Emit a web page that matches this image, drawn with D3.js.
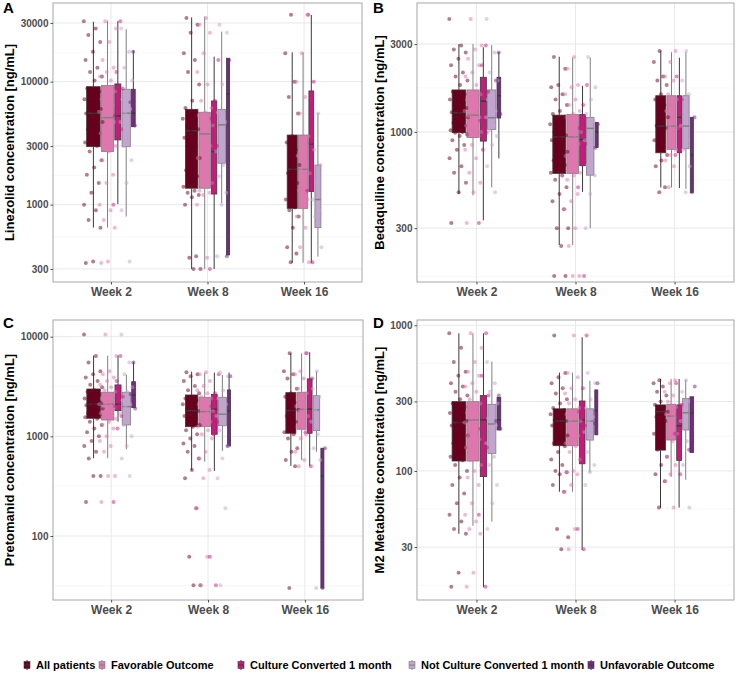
<!DOCTYPE html>
<html>
<head>
<meta charset="utf-8">
<script src="https://cdn.jsdelivr.net/npm/d3@7"></script>
<style>
  body { margin: 0; background: #fff; }
  text { font-family: "Liberation Sans", Arial, sans-serif; }
</style>
</head>
<body>
<svg id="chart" width="737" height="674"></svg>
<script>
const weeks = ["Week 2", "Week 8", "Week 16"];
const groups = ["All patients", "Favorable Outcome", "Culture Converted 1 month",
  "Not Culture Converted 1 month", "Unfavorable Outcome"];
const groupColors = ["#67001f", "#de77ae", "#c51b7d", "#c2a5cf", "#762a83"];
const groupStroke = ["#3a3a3a", "#808080", "#3a3a3a", "#808080", "#3a3a3a"];

// patients: [concentration, outcome(F/U/-) + culture at 1 month(C/N/-)]
const lzdWeek2 = [[31000,"FC"],[27000,"FN"],[24000,"--"],[21000,"F-"],[17500,"UN"],[15000,"F-"],[13000,"FN"],[12000,"FC"],
  [11000,"F-"],[10200,"FN"],[8800,"FC"],[8300,"FN"],[7800,"F-"],[7200,"FN"],[6800,"U-"],[6400,"FC"],[6000,"FN"],[5700,"F-"],
  [5500,"FN"],[5300,"FC"],[5000,"--"],[4700,"FN"],[4400,"U-"],[4100,"FC"],[3800,"FN"],[3500,"FC"],[3200,"F-"],[3000,"FN"],
  [2700,"F-"],[2300,"FN"],[2000,"--"],[1750,"F-"],[1500,"FN"],[1250,"--"],[1000,"FC"],[900,"FN"],[750,"F-"],[650,"F-"],
  [345,"FN"],[335,"F-"]];
const lzdWeek8 = [[33000,"F-"],[29000,"FN"],[25000,"FN"],[17000,"F-"],[15000,"UC"],[12000,"F-"],[9500,"FN"],[7000,"FC"],
  [6100,"F-"],[5600,"FN"],[5300,"F-"],[5000,"FC"],[4700,"FN"],[4400,"F-"],[4100,"FN"],[3900,"--"],[3500,"F-"],[3000,"FC"],
  [2700,"FN"],[2400,"F-"],[2100,"FN"],[1900,"F-"],[1700,"-N"],[1500,"F-"],[1400,"FC"],[1300,"F-"],[1250,"FN"],[1200,"F-"],
  [1150,"--"],[1000,"FN"],[380,"UN"],[370,"F-"],[300,"FC"],[300,"--"]];
const lzdWeek16 = [[35000,"FC"],[17000,"F-"],[10000,"FC"],[7500,"F-"],[5500,"FN"],[3600,"F-"],[3200,"-C"],[2800,"FN"],
  [2500,"F-"],[2100,"FN"],[1950,"F-"],[1800,"F-"],[1500,"FN"],[1300,"FC"],[1100,"FN"],[950,"F-"],[900,"-N"],[800,"FN"],
  [650,"F-"],[450,"FN"],[400,"--"],[340,"FC"]];

const bdqWeek2 = [[4100,"FN"],[2950,"FC"],[2800,"F-"],[2700,"UN"],[2500,"F-"],[2300,"FC"],[2100,"FN"],[2000,"F-"],
  [1900,"UN"],[1800,"F-"],[1650,"FC"],[1600,"FN"],[1550,"F-"],[1500,"FN"],[1450,"--"],[1400,"FC"],[1350,"F-"],[1300,"FN"],
  [1280,"F-"],[1250,"UN"],[1220,"F-"],[1200,"FN"],[1150,"FC"],[1120,"--"],[1080,"FN"],[1050,"F-"],[1020,"FN"],[1000,"F-"],
  [990,"FC"],[970,"F-"],[950,"FN"],[900,"--"],[850,"FN"],[800,"FC"],[720,"F-"],[650,"-N"],[600,"F-"],[530,"F-"],
  [470,"FN"],[320,"FC"]];
const bdqWeek8 = [[2550,"FN"],[2200,"F-"],[1800,"FC"],[1750,"FN"],[1600,"F-"],[1500,"FN"],[1400,"FC"],[1300,"F-"],
  [1250,"FN"],[1200,"F-"],[1150,"FN"],[1100,"U-"],[1050,"FC"],[1000,"FN"],[960,"F-"],[940,"--"],[900,"FN"],[860,"FC"],
  [820,"U-"],[780,"FN"],[740,"F-"],[700,"-C"],[660,"FN"],[620,"F-"],[600,"F-"],[580,"FN"],[550,"F-"],[500,"-C"],
  [460,"FN"],[420,"F-"],[380,"F-"],[300,"FN"],[300,"--"],[240,"F-"],[165,"FC"],[165,"F-"]];
const bdqWeek16 = [[2750,"FN"],[2400,"F-"],[2000,"FC"],[1900,"FN"],[1800,"--"],[1600,"FN"],[1500,"FC"],[1400,"F-"],
  [1300,"FN"],[1200,"U-"],[1120,"F-"],[1080,"FN"],[1050,"FC"],[980,"F-"],[900,"-N"],[850,"F-"],[800,"FN"],[750,"FC"],
  [700,"F-"],[650,"FN"],[500,"F-"],[470,"UN"]];

const paWeek2 = [[10500,"FN"],[6400,"FC"],[5500,"UN"],[4500,"F-"],[4200,"FN"],[3900,"F-"],[3600,"FC"],[3300,"F-"],
  [3100,"FN"],[2900,"F-"],[2800,"FN"],[2650,"U-"],[2500,"FC"],[2400,"F-"],[2300,"FN"],[2200,"--"],[2150,"F-"],[2100,"FN"],
  [2050,"FC"],[2000,"FC"],[1950,"FN"],[1900,"U-"],[1800,"F-"],[1700,"FN"],[1650,"--"],[1600,"FC"],[1550,"F-"],[1500,"FN"],
  [1400,"F-"],[1300,"FN"],[1200,"FC"],[1100,"--"],[1000,"FN"],[900,"F-"],[800,"FN"],[700,"F-"],[600,"-N"],[400,"FN"],
  [400,"F-"],[220,"FC"]];
const paWeek8 = [[4400,"FN"],[4200,"FC"],[4000,"UN"],[3600,"F-"],[3200,"F-"],[2900,"FN"],[2700,"FC"],[2500,"F-"],
  [2400,"FN"],[2300,"--"],[2200,"F-"],[2100,"FN"],[2000,"FC"],[1900,"F-"],[1800,"FN"],[1700,"F-"],[1600,"-N"],[1500,"F-"],
  [1400,"FC"],[1300,"FN"],[1250,"F-"],[1150,"FN"],[1050,"FC"],[950,"F-"],[850,"--"],[800,"UN"],[700,"F-"],[600,"FN"],
  [460,"F-"],[380,"FN"],[190,"FN"],[62,"FC"],[32,"FC"],[32,"-N"]];
const paWeek16 = [[6800,"FC"],[4500,"FN"],[4200,"F-"],[3800,"FC"],[3000,"FN"],[2700,"F-"],[2500,"-N"],[2200,"F-"],
  [2000,"FC"],[1850,"FN"],[1800,"F-"],[1600,"F-"],[1400,"FN"],[1250,"F-"],[1100,"-C"],[1050,"FN"],[950,"F-"],[760,"UN"],
  [700,"F-"],[580,"FN"],[500,"FC"],[30,"UN"]];

const m2Week2 = [[880,"FC"],[700,"F-"],[560,"FN"],[480,"F-"],[450,"FC"],[400,"FN"],[380,"F-"],[350,"FN"],[330,"UC"],
  [310,"F-"],[290,"FN"],[275,"F-"],[260,"-N"],[250,"FC"],[240,"F-"],[230,"FN"],[220,"U-"],[215,"F-"],[205,"FN"],[195,"UC"],
  [185,"--"],[175,"FN"],[165,"F-"],[155,"FN"],[145,"FC"],[135,"F-"],[125,"-N"],[118,"F-"],[110,"FN"],[100,"FC"],[90,"F-"],
  [80,"FN"],[70,"--"],[60,"FN"],[50,"FC"],[45,"F-"],[40,"FN"],[37,"F-"],[20,"F-"],[16,"FC"]];
const m2Week8 = [[850,"FC"],[470,"FN"],[440,"F-"],[400,"UN"],[370,"FC"],[340,"F-"],[310,"FN"],[290,"F-"],[270,"FN"],
  [262,"--"],[255,"FC"],[245,"F-"],[235,"FN"],[225,"F-"],[220,"FN"],[212,"U-"],[205,"FC"],[195,"F-"],[185,"-N"],[175,"F-"],
  [165,"FN"],[155,"F-"],[148,"FC"],[135,"FN"],[120,"F-"],[110,"-N"],[100,"F-"],[98,"FN"],[95,"F-"],[80,"FN"],[72,"F-"],
  [40,"FC"],[35,"--"],[29,"FC"]];
const m2Week16 = [[420,"FN"],[400,"FC"],[380,"U-"],[350,"FN"],[330,"F-"],[300,"FN"],[285,"-C"],[275,"F-"],[265,"FN"],
  [255,"U-"],[245,"FC"],[235,"F-"],[220,"FN"],[200,"--"],[180,"FC"],[160,"FN"],[140,"U-"],[125,"F-"],[110,"FN"],[95,"FC"],
  [85,"F-"],[56,"FN"]];

// box statistics per week and group: [lower whisker, Q1, median, Q3, upper whisker]
const lzdBoxes = [
  [[650,2960,5540,9100,30700],[650,2700,5100,9300,31300],[1010,3360,5260,9580,31000],[800,2960,5540,8670,26700],[4300,4300,5540,8670,17900]],
  [[300,1360,3990,5960,33300],[300,1360,3760,5640,33700],[300,1220,2700,6960,15960],[1030,2170,4450,5960,25500],[390,390,7900,15500,15500]],
  [[337,933,1940,3680,17300],[337,933,1940,3680,17300],[337,1280,3110,8400,34800],[378,650,1100,2100,5540],null]
];
const bdqBoxes = [
  [[459,990,1270,1690,3000],[452,933,1233,1690,3000],[331,891,1470,1980,2880],[499,1031,1194,1690,2960],[718,1190,1572,1980,2710]],
  [[243,595,940,1233,2560],[243,595,940,1245,2530],[472,655,910,1245,1780],[300,582,1045,1200,2530],[824,824,1000,1125,1125]],
  [[499,770,1075,1572,2760],[499,804,1075,1572,2710],[495,770,1200,1572,2530],[490,810,1075,1572,2710],[469,469,750,1200,1200]]
];
const paBoxes = [
  [[603,1518,2113,2985,6450],[603,1459,2100,2770,6450],[1403,1810,2100,3280,6500],[741,1300,1986,2770,4130],[1940,1940,2600,3535,5610]],
  [[460,1250,1810,2600,4460],[557,1250,1770,2466,4360],[450,1050,1870,2642,4360],[714,1280,1667,2466,4130],[801,801,1800,2920,4360]],
  [[505,1074,1810,2743,6810],[580,1178,1870,2770,6810],[505,1074,1880,3770,6980],[700,1140,1845,2560,4460],[30,30,400,760,760]]
];
const m2Boxes = [
  [[37,117,215,299,881],[42,117,224,299,881],[15.9,91.4,224,329,881],[44.9,132,210,287,563],[191,191,224,320,320]],
  [[72,149,220,267,473],[72,149,220,267,473],[28.7,112,224,302,828],[98,163,220,267,415],[177,177,260,360,360]],
  [[56,139,255,284,428],[91,163,238,287,428],[56,118,204,284,428],[87,191,251,315,421],[134,134,250,323,323]]
];

const lzdTicks = [300, 1000, 3000, 10000, 30000];
const bdqTicks = [300, 1000, 3000];
const paTicks = [100, 1000, 10000];
const m2Ticks = [30, 100, 300, 1000];

const panels = [
  { letter: "A", title: "Linezolid concentration [ng/mL]", patients: [lzdWeek2, lzdWeek8, lzdWeek16], boxes: lzdBoxes,
    ticks: lzdTicks, domain: [235, 43600], x0: 53, x1: 362, y0: 3, y1: 282, ox: 0, oy: 0 },
  { letter: "B", title: "Bedaquiline concentration [ng/mL]", patients: [bdqWeek2, bdqWeek8, bdqWeek16], boxes: bdqBoxes,
    ticks: bdqTicks, domain: [153, 5013], x0: 417, x1: 734, y0: 3, y1: 282, ox: 370, oy: 0 },
  { letter: "C", title: "Pretomanid concentration [ng/mL]", patients: [paWeek2, paWeek8, paWeek16], boxes: paBoxes,
    ticks: paTicks, domain: [22.8, 14700], x0: 53, x1: 363, y0: 320, y1: 600, ox: 0, oy: 315 },
  { letter: "D", title: "M2 Metabolite concentration [ng/mL]", patients: [m2Week2, m2Week8, m2Week16], boxes: m2Boxes,
    ticks: m2Ticks, domain: [13, 1087], x0: 417, x1: 734, y0: 320, y1: 600, ox: 370, oy: 315 }
];

const inGroup = [
  (c) => true,
  (c) => c[0] === "F",
  (c) => c[1] === "C",
  (c) => c[1] === "N",
  (c) => c[0] === "U"
];

const maxBoxW = 13.5, refN = 40, boxGap = 1.2;
const svg = d3.select("#chart");
svg.append("rect").attr("width", 737).attr("height", 674).attr("fill", "#fff");

panels.forEach((p) => {
  const x = d3.scalePoint().domain(weeks).range([p.x0, p.x1]).padding(0.6);
  const y = d3.scaleLog().domain(p.domain).range([p.y1, p.y0]);
  const g = svg.append("g");

  // minor grid lines at log midpoints
  const lt = p.ticks.map(Math.log10);
  const step = lt.length > 1 ? lt[1] - lt[0] : 1;
  const minors = [];
  for (let i = -1; i < lt.length; i++) {
    const a = i < 0 ? lt[0] - step : lt[i];
    const b = i + 1 < lt.length ? lt[i + 1] : lt[i] + step;
    const v = Math.pow(10, (a + b) / 2);
    if (v > p.domain[0] && v < p.domain[1]) minors.push(v);
  }
  g.selectAll("line.minor").data(minors).join("line")
    .attr("x1", p.x0).attr("x2", p.x1)
    .attr("y1", (d) => y(d)).attr("y2", (d) => y(d))
    .attr("stroke", "#f2f2f2").attr("stroke-width", 0.6);
  g.selectAll("line.major").data(p.ticks).join("line")
    .attr("x1", p.x0).attr("x2", p.x1)
    .attr("y1", (d) => y(d)).attr("y2", (d) => y(d))
    .attr("stroke", "#e8e8e8").attr("stroke-width", 1);
  g.selectAll("line.vgrid").data(weeks).join("line")
    .attr("x1", (d) => x(d)).attr("x2", (d) => x(d))
    .attr("y1", p.y0).attr("y2", p.y1)
    .attr("stroke", "#e8e8e8").attr("stroke-width", 1);

  // boxes + points
  weeks.forEach((wk, wi) => {
    const pts = p.patients[wi];
    const items = [];
    groups.forEach((gname, gi) => {
      const st = p.boxes[wi][gi];
      if (!st) return;
      const vals = pts.filter((d) => inGroup[gi](d[1])).map((d) => d[0]);
      const w = maxBoxW * Math.sqrt(vals.length / refN);
      items.push({ gi, st, vals, w });
    });
    const total = d3.sum(items, (d) => d.w) + boxGap * (items.length - 1);
    let cur = x(wk) - total / 2;
    items.forEach((it) => { it.cx = cur + it.w / 2; cur += it.w + boxGap; });

    items.forEach((it) => {
      const [lo, q1, md, q3, hi] = it.st;
      const col = groupColors[it.gi], sc = groupStroke[it.gi];
      g.append("line").attr("x1", it.cx).attr("x2", it.cx).attr("y1", y(hi)).attr("y2", y(q3))
        .attr("stroke", sc).attr("stroke-width", 1);
      g.append("line").attr("x1", it.cx).attr("x2", it.cx).attr("y1", y(q1)).attr("y2", y(lo))
        .attr("stroke", sc).attr("stroke-width", 1);
      g.append("rect").attr("x", it.cx - it.w / 2).attr("width", it.w)
        .attr("y", y(q3)).attr("height", Math.max(1, y(q1) - y(q3)))
        .attr("fill", col).attr("stroke", sc).attr("stroke-width", 0.8);
      g.append("line").attr("x1", it.cx - it.w / 2).attr("x2", it.cx + it.w / 2)
        .attr("y1", y(md)).attr("y2", y(md))
        .attr("stroke", sc).attr("stroke-width", 1.5);
    });

    items.forEach((it) => {
      const jw = it.w * 0.6 + 1.5;
      g.selectAll(null).data(it.vals).join("circle")
        .attr("cx", (d, i) => it.cx + (((i * 0.618034 + it.gi * 0.37 + wi * 0.21) % 1) * 2 - 1) * jw)
        .attr("cy", (d) => y(d))
        .attr("r", 2)
        .attr("fill", groupColors[it.gi])
        .attr("fill-opacity", 0.5);
    });
  });

  // border
  g.append("rect").attr("x", p.x0).attr("y", p.y0)
    .attr("width", p.x1 - p.x0).attr("height", p.y1 - p.y0)
    .attr("fill", "none").attr("stroke", "#a6a6a6").attr("stroke-width", 1);

  // axes
  const yAxis = d3.axisLeft(y).tickValues(p.ticks).tickFormat(d3.format("d")).tickSize(2.5).tickPadding(2);
  const ya = g.append("g").attr("transform", `translate(${p.x0},0)`).call(yAxis);
  const xAxis = d3.axisBottom(x).tickSize(2.5).tickPadding(3);
  const xa = g.append("g").attr("transform", `translate(0,${p.y1})`).call(xAxis);
  [ya, xa].forEach((a) => {
    a.select(".domain").remove();
    a.selectAll(".tick line").attr("stroke", "#4d4d4d");
    a.selectAll(".tick text").attr("fill", "#4d4d4d").attr("font-weight", "bold")
      .style("font-family", "'Liberation Sans', Arial, sans-serif");
  });
  ya.selectAll(".tick text").attr("font-size", 10);
  xa.selectAll(".tick text").attr("font-size", 12);

  g.append("text")
    .attr("transform", `translate(${p.ox + 14},${(p.y0 + p.y1) / 2}) rotate(-90)`)
    .attr("text-anchor", "middle")
    .attr("font-size", 13).attr("font-weight", "bold").attr("fill", "#000")
    .text(p.title);

  g.append("text")
    .attr("x", p.ox + 3).attr("y", p.oy + 13)
    .attr("font-size", 15).attr("font-weight", "bold").attr("fill", "#000")
    .text(p.letter);
});

// legend
const legendX = [24, 99, 238, 409, 588];
const legY = 665;
const leg = svg.append("g");
groups.forEach((gname, gi) => {
  const lx = legendX[gi];
  leg.append("line").attr("x1", lx + 3).attr("x2", lx + 3).attr("y1", legY - 5).attr("y2", legY + 5)
    .attr("stroke", groupStroke[gi]).attr("stroke-width", 1);
  leg.append("rect").attr("x", lx).attr("y", legY - 3.5).attr("width", 6).attr("height", 7)
    .attr("fill", groupColors[gi]).attr("stroke", groupStroke[gi]).attr("stroke-width", 0.6);
  leg.append("line").attr("x1", lx).attr("x2", lx + 6).attr("y1", legY).attr("y2", legY)
    .attr("stroke", groupStroke[gi]).attr("stroke-width", 1);
  leg.append("text").attr("x", lx + 12).attr("y", legY + 4)
    .attr("font-size", 11).attr("font-weight", "bold").attr("fill", "#000")
    .text(gname);
});
</script>
</body>
</html>
